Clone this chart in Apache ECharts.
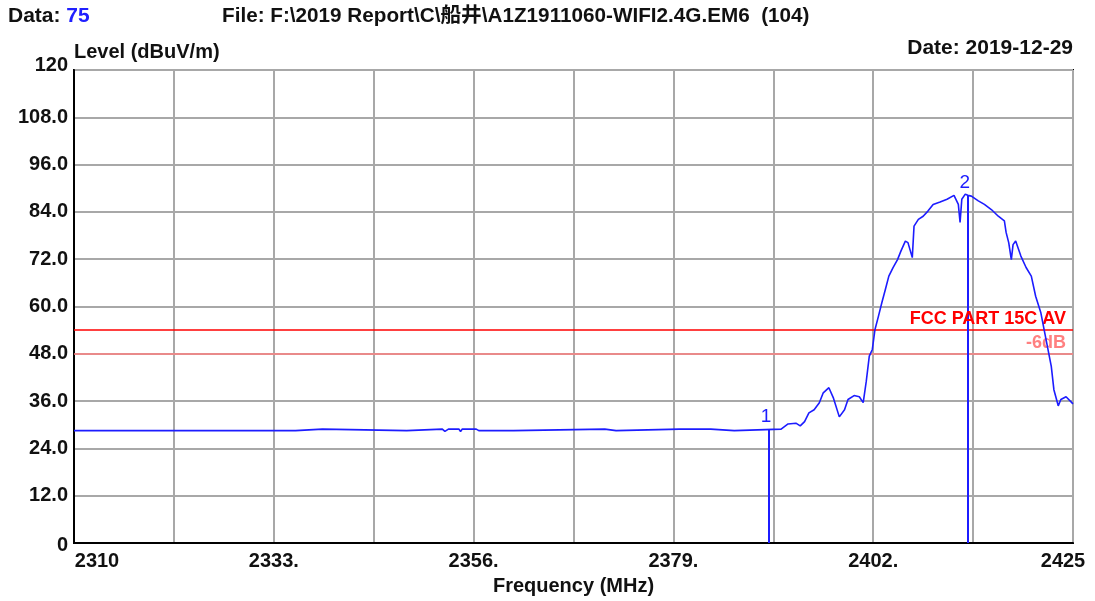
<!DOCTYPE html>
<html>
<head>
<meta charset="utf-8">
<script src="https://cdn.jsdelivr.net/npm/echarts@6/dist/echarts.min.js"></script>
<style>
html,body{margin:0;padding:0;background:#fff;}
#chart{width:1095px;height:601px;}
</style>
</head>
<body>
<div id="chart"></div>
<script>
// ---- data ----
const F0 = 2310;            // start frequency (MHz)
const F1 = 2425;            // stop frequency (MHz)
const freqStep = 11.5;      // grid division (MHz)
const freqMHz = [
  2310.0, 2335.5, 2335.6, 2338.6, 2338.75, 2348.3, 2348.4, 2352.4, 2352.7, 2353.1,
  2354.3, 2354.5, 2354.7, 2356.3, 2356.6, 2360.6, 2360.7, 2371.1, 2371.2, 2372.4,
  2372.6, 2379.7, 2379.8, 2380.2, 2383.3, 2383.4, 2386.0, 2386.1, 2391.4, 2392.2,
  2393.1, 2393.6, 2394.1, 2394.6, 2395.2, 2395.8, 2396.25, 2396.9, 2397.4, 2398.1,
  2398.7, 2399.1, 2399.8, 2400.4, 2400.85, 2401.2, 2401.55, 2401.9, 2402.2, 2402.6,
  2403.0, 2403.4, 2403.8, 2404.3, 2404.8, 2405.2, 2405.7, 2406.0, 2406.5, 2406.7,
  2407.2, 2407.75, 2408.3, 2408.9, 2409.7, 2410.5, 2411.3, 2411.8, 2412.0, 2412.2,
  2412.6, 2412.9, 2413.3, 2414.1, 2414.8, 2415.6, 2416.4, 2417.1, 2417.3, 2417.6,
  2417.9, 2418.1, 2418.4, 2419.0, 2419.6, 2420.2, 2420.7, 2421.3, 2421.9, 2422.5,
  2422.8, 2423.3, 2423.6, 2424.2, 2425.0
];
const levelDbuv = [
  28.5, 28.5, 28.9, 28.9, 28.5, 28.5, 28.9, 28.9, 28.3, 28.9,
  28.9, 28.3, 28.9, 28.9, 28.5, 28.5, 28.9, 28.9, 28.5, 28.5,
  28.9, 28.9, 28.5, 28.9, 28.9, 28.5, 28.5, 28.9, 28.9, 30.2,
  30.4, 29.7, 30.8, 33.0, 33.8, 35.6, 38.1, 39.4, 36.9, 32.0,
  33.8, 36.4, 37.4, 37.1, 35.6, 41.0, 47.4, 49.1, 54.1, 57.5,
  61.0, 64.3, 67.7, 69.9, 71.9, 74.1, 76.6, 76.2, 72.4, 80.4,
  82.1, 82.9, 84.2, 85.9, 86.5, 87.2, 88.2, 85.9, 81.3, 87.2,
  88.5, 88.2, 88.0, 86.8, 85.9, 84.6, 82.9, 81.7, 78.8, 76.2,
  71.9, 75.7, 76.6, 72.8, 69.9, 67.7, 62.6, 58.4, 51.6, 44.8,
  38.9, 34.8, 36.4, 37.1, 35.3
];
const markerNames = ['1', '2'];
const markerFreqs = [2390.0, 2412.9];
const markerLevels = [28.9, 88.2];
const limitNames = ['FCC PART 15C AV', '-6dB'];
const limitLevels = [54, 48];
const limitColors = ['#ff0000', '#ff8080'];
const yMin = 0, yMax = 120, yStep = 12;

// ---- chart ----
const chart = echarts.init(document.getElementById('chart'), null, {renderer: 'canvas'});
const FONT = 'Liberation Sans, Arial, Noto Sans CJK SC, sans-serif';

const traceData = freqMHz.map((f, i) => [f - F0, levelDbuv[i]]);

const markerLineData = markerFreqs.map((f, i) => [
  {name: markerNames[i], coord: [f - F0, 0]},
  {coord: [f - F0, markerLevels[i]]}
]);

const limitLineData = limitLevels.map((v, i) => ({
  name: limitNames[i],
  yAxis: v,
  lineStyle: {color: limitColors[i], width: 1.5, type: 'solid'},
  label: {
    show: true,
    position: 'insideEndTop',
    formatter: '{b}',
    color: limitColors[i],
    fontFamily: FONT,
    fontWeight: 'bold',
    fontSize: 18,
    distance: [7, 2]
  }
}));

const option = {
  backgroundColor: '#ffffff',
  animation: false,
  textStyle: {fontFamily: FONT},
  title: [
    {
      left: 8, top: 6, padding: 0,
      text: '{a|Data: }{b|75}',
      textStyle: {
        rich: {
          a: {fontFamily: FONT, fontWeight: 'bold', fontSize: 21, color: '#111'},
          b: {fontFamily: FONT, fontWeight: 'bold', fontSize: 21, color: '#2020ff'}
        }
      }
    },
    {
      left: 222, top: 6, padding: 0,
      text: 'File: F:\\2019 Report\\C\\船井\\A1Z1911060-WIFI2.4G.EM6  (104)',
      textStyle: {fontFamily: FONT, fontWeight: 'bold', fontSize: 20.7, color: '#111'}
    },
    {
      right: 22, top: 38, padding: 0,
      text: 'Date: 2019-12-29',
      textStyle: {fontFamily: FONT, fontWeight: 'bold', fontSize: 21, color: '#111'}
    }
  ],
  grid: {
    left: 74, right: 22, top: 70, bottom: 58,
    outerBoundsMode: 'none',
    containLabel: false,
    show: true, borderColor: '#000', borderWidth: 2, backgroundColor: '#fff'
  },
  xAxis: {
    type: 'value',
    min: 0, max: F1 - F0, interval: freqStep,
    name: 'Frequency (MHz)',
    nameLocation: 'middle',
    nameGap: 33,
    nameTextStyle: {fontFamily: FONT, fontWeight: 'bold', fontSize: 20, color: '#111'},
    axisLine: {show: true, lineStyle: {color: '#000', width: 2}},
    axisTick: {show: false},
    splitLine: {show: true, lineStyle: {color: '#a8a8a8', width: 2}},
    axisLabel: {
      margin: 8,
      showMinLabel: true, showMaxLabel: true,
      hideOverlap: false,
      fontFamily: FONT, fontWeight: 'bold', fontSize: 20, color: '#111',
      formatter: function (v) {
        const k = Math.round(v / freqStep);
        if (k % 2 !== 0) return '';
        const f = Math.round((v + F0) * 10) / 10;
        if (k === 0) return '{first|' + f + '}';
        if (Math.abs(v - (F1 - F0)) < 1e-6) return '{last|' + f + '}';
        return f + '.';
      },
      rich: {
        first: {fontFamily: FONT, fontWeight: 'bold', fontSize: 20, color: '#111', padding: [0, 0, 0, 46]},
        last: {fontFamily: FONT, fontWeight: 'bold', fontSize: 20, color: '#111', padding: [0, 20, 0, 0]}
      }
    }
  },
  yAxis: {
    type: 'value',
    min: yMin, max: yMax, interval: yStep,
    name: 'Level (dBuV/m)',
    nameLocation: 'end',
    nameGap: 18,
    nameTextStyle: {fontFamily: FONT, fontWeight: 'bold', fontSize: 20, color: '#111', align: 'left', verticalAlign: 'middle'},
    axisLine: {show: true, lineStyle: {color: '#000', width: 2}},
    axisTick: {show: false},
    splitLine: {show: true, lineStyle: {color: '#a8a8a8', width: 2}},
    axisLabel: {
      margin: 6,
      fontFamily: FONT, fontWeight: 'bold', fontSize: 20, color: '#111',
      formatter: function (v) {
        if (v === yMin) return '{zero|0}';
        if (v === yMax) return '{top|' + v + '}';
        return v.toFixed(1);
      },
      rich: {
        zero: {fontFamily: FONT, fontWeight: 'bold', fontSize: 20, color: '#111', padding: [4, 0, 0, 0]},
        top: {fontFamily: FONT, fontWeight: 'bold', fontSize: 20, color: '#111', padding: [0, 0, 10, 0]}
      }
    }
  },
  series: [
    {
      name: 'limits',
      type: 'line',
      data: [],
      silent: true,
      markLine: {
        silent: true,
        symbol: 'none',
        animation: false,
        data: limitLineData
      }
    },
    {
      name: 'trace',
      type: 'line',
      data: traceData,
      showSymbol: false,
      lineStyle: {color: '#1c1cff', width: 1.6},
      itemStyle: {color: '#1c1cff'},
      z: 5,
      markLine: {
        silent: true,
        symbol: 'none',
        animation: false,
        lineStyle: {color: '#1c1cff', width: 2, type: 'solid'},
        label: {
          show: true,
          position: 'end',
          formatter: '{b}',
          color: '#1c1cff',
          fontFamily: FONT,
          fontSize: 19,
          distance: 3,
          offset: [-3, 0]
        },
        data: markerLineData
      }
    }
  ]
};
chart.setOption(option);
</script>
</body>
</html>
